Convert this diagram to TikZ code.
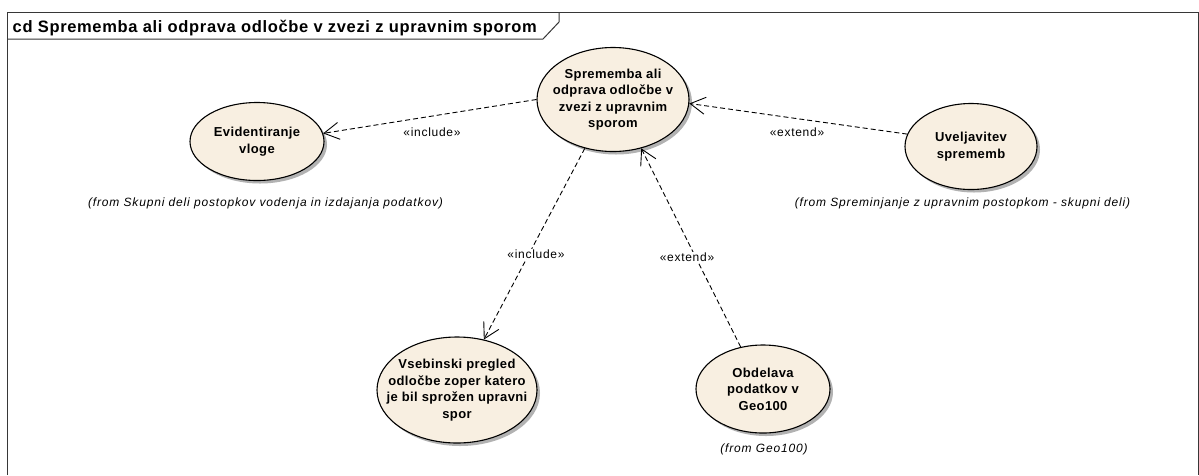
\documentclass[tikz,border=0pt]{standalone}
\usepackage{fontspec}
\setmainfont{Liberation Sans}
\newfontfamily\ucfont[LetterSpace=3]{Liberation Sans}
\newfontfamily\lblfont[LetterSpace=6]{Liberation Sans}
\newfontfamily\notefont[LetterSpace=7]{Liberation Sans}
\newfontfamily\titlefont[LetterSpace=4]{Liberation Sans}
\usetikzlibrary{shapes.geometric,arrows.meta,shadows}
\definecolor{ucfill}{RGB}{248,239,225}
\definecolor{framecol}{RGB}{55,55,55}

\begin{document}
\begin{tikzpicture}[x=1pt,y=-1pt,
  usecase/.style={ellipse, draw=black, line width=1.1pt, fill=ucfill, inner sep=0pt,
    drop shadow={shadow xshift=3pt, shadow yshift=-3pt, fill=black!30, opacity=1}},
  uctext/.style={align=center, inner sep=0pt, text=black,
    font=\ucfont\bfseries\fontsize{13}{16.5}\selectfont},
  dep/.style={draw=black, line width=0.9pt, dash pattern=on 5pt off 3pt,
    -{Straight Barb[length=15pt,width=17pt,line width=0.9pt]}},
  lbl/.style={fill=white, inner sep=1pt, text=black,
    font=\lblfont\fontsize{12}{13}\selectfont},
  note/.style={inner sep=0pt, text=black,
    font=\notefont\itshape\fontsize{12}{13}\selectfont},
  frameline/.style={draw=framecol, line width=1pt}
]
\useasboundingbox[fill=white] (0,0) rectangle (1199,475);

% diagram frame with its name tab
\draw[frameline] (7.5,475) -- (7.5,12) -- (1198,12) -- (1198,475);
\draw[frameline] (7.5,39) -- (543,39) -- (559,22) -- (559,12);
\node[anchor=base west, inner sep=0pt, font=\titlefont\bfseries\fontsize{16.5}{19}\selectfont]
  (title) at (12.5,32.7) {cd Sprememba ali odprava odločbe v zvezi z upravnim sporom};

% use cases
\node[usecase, minimum width=152pt, minimum height=104pt,
  label={[uctext]center:{Sprememba ali\\odprava odločbe v\\zvezi z upravnim\\sporom}}]
  (main) at (613,99.5) {};
\node[usecase, minimum width=134pt, minimum height=78pt,
  label={[uctext]center:{Evidentiranje\\vloge}}]
  (evid) at (257,141.5) {};
\node[usecase, minimum width=132pt, minimum height=86pt,
  label={[uctext]center:{Uveljavitev\\sprememb}}]
  (uvel) at (971,146.5) {};
\node[usecase, minimum width=160pt, minimum height=106pt,
  label={[uctext]center:{Vsebinski pregled\\odločbe zoper katero\\je bil sprožen upravni\\spor}}]
  (vseb) at (457,390) {};
\node[usecase, minimum width=134pt, minimum height=88pt,
  label={[uctext]center:{Obdelava\\podatkov v\\Geo100}}]
  (obd) at (763,389) {};

% package notes
\node[note] (n1) at (265.5,203) {(from Skupni deli postopkov vodenja in izdajanja podatkov)};
\node[note] (n2) at (962.5,203) {(from Spreminjanje z upravnim postopkom - skupni deli)};
\node[note] (n3) at (764,449) {(from Geo100)};

% include / extend relationships
\draw[dep] (main.180) -- (evid.7);
\draw[dep] (uvel.169) -- (main.-3);
\draw[dep] (main.240) -- (vseb.62);
\draw[dep] (obd.118) -- (main.300);

\node[lbl] (l1) at (432,132) {«include»};
\node[lbl] (l2) at (797,132) {«extend»};
\node[lbl] (l3) at (536,254) {«include»};
\node[lbl] (l4) at (687,257) {«extend»};
\end{tikzpicture}
\end{document}
